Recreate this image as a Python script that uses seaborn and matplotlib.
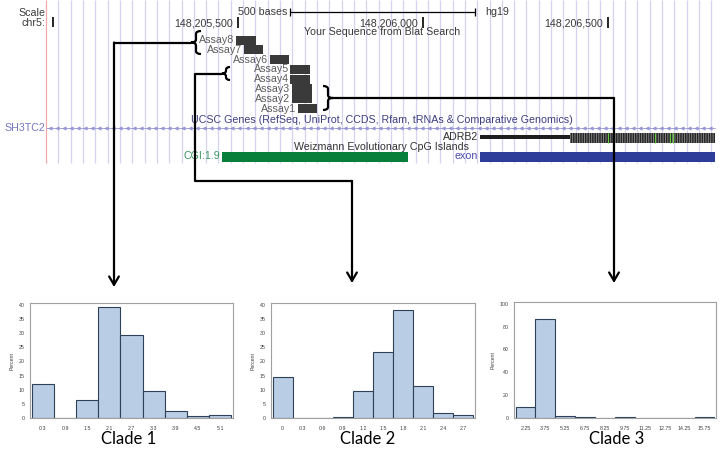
import matplotlib
matplotlib.use("Agg")
import matplotlib.pyplot as plt
import seaborn as sns
import numpy as np
import pandas as pd
from matplotlib.patches import Rectangle, PathPatch
from matplotlib.path import Path

# --- histogram data (percent per bin, bins centred on the tick labels) ---
clade1_bins = [0.3, 0.9, 1.5, 2.1, 2.7, 3.3, 3.9, 4.5, 5.1]
clade1_pct = [12.0, 0.0, 6.5, 39.3, 29.2, 9.7, 2.3, 0.6, 1.1]
clade1_labels = ["0.3", "0.9", "1.5", "2.1", "2.7", "3.3", "3.9", "4.5", "5.1"]

clade2_bins = [0.0, 0.3, 0.6, 0.9, 1.2, 1.5, 1.8, 2.1, 2.4, 2.7]
clade2_pct = [14.3, 0.0, 0.0, 0.4, 9.6, 23.4, 38.1, 11.3, 1.7, 1.0]
clade2_labels = ["0", "0.3", "0.6", "0.9", "1.2", "1.5", "1.8", "2.1", "2.4", "2.7"]

clade3_bins = [2.25, 3.75, 5.25, 6.75, 8.25, 9.75, 11.25, 12.75, 14.25, 15.75]
clade3_pct = [10.0, 86.5, 1.5, 0.7, 0.0, 0.7, 0.0, 0.0, 0.0, 0.6]
clade3_labels = ["2.25", "3.75", "5.25", "6.75", "8.25", "9.75", "11.25", "12.75", "14.25", "15.75"]

# --- browser track data (hg19, chr5) ---
assay_names = ["Assay1", "Assay2", "Assay3", "Assay4", "Assay5", "Assay6", "Assay7", "Assay8"]
assay_start = [148205662, 148205646, 148205646, 148205641, 148205641, 148205586, 148205516, 148205495]
assay_end = [148205714, 148205700, 148205700, 148205695, 148205695, 148205638, 148205568, 148205549]
scale_ticks = [148205500, 148206000, 148206500]
scale_tick_labels = ["148,205,500", "148,206,000", "148,206,500"]
view_start, view_end = 148204981, 148206789
cgi_start, cgi_end = 148205457, 148205959
exon_start, exon_end = 148206154, 148206789
adrb2_start, adrb2_cds, adrb2_end = 148206154, 148206397, 148206789
adrb2_green = [148206500, 148206627, 148206667, 148206675]

sns.set_style("white")
plt.rcParams["font.family"] = ["Liberation Sans", "DejaVu Sans"]
plt.rcParams["hatch.linewidth"] = 0.6

W, H = 721, 457
fig = plt.figure(figsize=(W / 100, H / 100), dpi=100)

# pixel -> base conversion used for the track axes limits
BASE0, PX0, PX_PER_BASE = 148205500, 238, 0.37


def g(px):
    return BASE0 + (px - PX0) / PX_PER_BASE


track = fig.add_axes([0, 0, 1, 1])
track.set_xlim(g(0), g(W))
track.set_ylim(H, 0)
track.axis("off")

# light guide lines + red left border
grid_x = np.arange(view_start, view_end + 1, 33.3)
track.vlines(grid_x[1:], 0, 163, color="#d4d4f0", lw=0.9, zorder=0)
track.vlines(view_start, 0, 163, color="#f2a8a8", lw=0.9, zorder=0)

FS = 7.7
txt = dict(fontsize=FS, color="#3a3a3a", va="center")
track.text(g(45), 13, "Scale", ha="right", **txt)
track.text(g(45), 23, "chr5:", ha="right", **txt)
track.vlines(g(53), 17, 27, color="k", lw=1.2)

# 500 bases scale bar
sb0 = g(290)
track.plot([sb0, sb0 + 500], [12, 12], color="k", lw=0.9)
track.vlines([sb0, sb0 + 500], 8, 16, color="k", lw=0.9)
track.text(sb0 - 8, 12, "500 bases", ha="right", **txt)
track.text(sb0 + 527, 12, "hg19", ha="left", **txt)

for pos, lab in zip(scale_ticks, scale_tick_labels):
    track.vlines(pos, 17, 28, color="k", lw=1.2)
    track.text(pos - 13, 23, lab, ha="right", **txt)

track.text(g(382), 32, "Your Sequence from Blat Search", ha="center", **txt)

# assays
for i, (name, s, e) in enumerate(zip(assay_names, assay_start, assay_end)):
    y = 108.5 - 9.77 * i
    track.add_patch(Rectangle((s, y - 4.6), e - s, 9.2, facecolor="#3a3a3a", edgecolor="none"))
    track.text(s - 4, y, name, ha="right", fontsize=FS, color="#5e5e5e", va="center")

# UCSC genes
track.text(g(382), 120, "UCSC Genes (RefSeq, UniProt, CCDS, Rfam, tRNAs & Comparative Genomics)",
           ha="center", fontsize=FS, color="#3e3e7e", va="center")
track.text(g(45), 128, "SH3TC2", ha="right", fontsize=FS, color="#7676c2", va="center")
track.plot([view_start, view_end], [128, 128], color="#9a9ad8", lw=0.6)
chev = np.arange(view_start + 10, view_end, 19)
track.plot(chev, np.full(len(chev), 128), ls="none", marker="<", ms=2.4,
           mfc="#9a9ad8", mec="#8a8ad0", mew=0.4)

track.text(adrb2_start - 6, 137, "ADRB2", ha="right", fontsize=FS, color="#2e2e2e", va="center")
track.add_patch(Rectangle((adrb2_start, 135), adrb2_cds - adrb2_start, 4, facecolor="#1e1e1e", edgecolor="none"))
track.add_patch(Rectangle((adrb2_cds, 132.5), adrb2_end - adrb2_cds, 10.5, facecolor="#262626",
                          edgecolor="#8e8e8e", hatch="|||||||", lw=0))
track.vlines(adrb2_green, 132.5, 143, color="#5ecf3a", lw=0.8)

track.text(g(382), 147, "Weizmann Evolutionary CpG Islands", ha="center", fontsize=FS,
           color="#333333", va="center")
track.text(cgi_start - 6, 156, "CGI:1.9", ha="right", fontsize=FS, color="#3b9563", va="center")
track.add_patch(Rectangle((cgi_start, 152), cgi_end - cgi_start, 9.5, facecolor="#08803c", edgecolor="none"))
track.text(exon_start - 6, 156, "exon", ha="right", fontsize=FS, color="#4a4aac", va="center")
track.add_patch(Rectangle((exon_start, 152), exon_end - exon_start, 9.5, facecolor="#2f3d9a", edgecolor="none"))


# --- histograms ---
def draw_hist(box, centers, pct, labels, ymax, ystep, title, cx):
    l, t, r, b = box
    ax = fig.add_axes([l / W, 1 - b / H, (r - l) / W, (b - t) / H])
    c = np.array(centers, dtype=float)
    w = c[1] - c[0]
    edges = list(np.append(c - w / 2, c[-1] + w / 2))
    df = pd.DataFrame({"value": centers, "pct": pct})
    sns.histplot(data=df, x="value", weights="pct", bins=edges, ax=ax, color="#b9cde5",
                 edgecolor="#2f4156", linewidth=0.8, alpha=1)
    ax.set_xlim(edges[0] - 0.08 * w, edges[-1] + 0.08 * w)
    ax.set_ylim(0, ymax * 1.015)
    ax.set_xticks(centers)
    ax.set_xticklabels(labels)
    ax.set_yticks(np.arange(0, ymax + 0.1, ystep))
    ax.set_ylabel("Percent", fontsize=3.8, color="#404040", labelpad=3)
    ax.set_xlabel("")
    ax.tick_params(labelsize=3.8, colors="#404040", length=2, width=0.5, pad=2)
    ax.tick_params(axis="x", length=0, pad=6)
    for sp in ax.spines.values():
        sp.set_color("#a0a0a0")
        sp.set_linewidth(0.8)
    fig.text(cx / W, 1 - 439 / H, title, fontsize=12, family=["Lato", "DejaVu Sans"],
             ha="center", va="center", color="black")


draw_hist((30, 303, 233, 418), clade1_bins, clade1_pct, clade1_labels, 40, 5, "Clade 1", 129)
draw_hist((271, 303, 475, 418), clade2_bins, clade2_pct, clade2_labels, 40, 5, "Clade 2", 368)
draw_hist((514, 302, 716, 418), clade3_bins, clade3_pct, clade3_labels, 100, 20, "Clade 3", 617)

# --- brackets and arrows (figure pixels) ---
ov = fig.add_axes([0, 0, 1, 1], zorder=5)
ov.set_xlim(0, W)
ov.set_ylim(H, 0)
ov.axis("off")
ov.patch.set_alpha(0)


def brace(x_tip, y0, y1, w, facing=1):
    # facing=1: tip points left, -1: tip points right
    ym = (y0 + y1) / 2
    r = 3
    xo = x_tip + facing * w
    xm = x_tip + facing * w / 2
    verts = [(xo, y0), (xm, y0), (xm, y0 + r), (xm, ym - r), (xm, ym), (x_tip, ym),
             (xm, ym), (xm, ym + r), (xm, y1 - r), (xm, y1), (xo, y1)]
    codes = [Path.MOVETO, Path.CURVE3, Path.CURVE3, Path.LINETO, Path.CURVE3, Path.CURVE3,
             Path.CURVE3, Path.CURVE3, Path.LINETO, Path.CURVE3, Path.CURVE3]
    ov.add_patch(PathPatch(Path(verts, codes), facecolor="none", edgecolor="k", lw=1.6))


brace(191, 31, 54, 10, 1)
brace(222, 67, 80, 8, 1)
brace(333, 86, 110, 10, -1)

arrow = dict(arrowstyle="->,head_length=0.6,head_width=0.35", lw=1.6, color="k",
             shrinkA=0, shrinkB=0)
ov.plot([191, 114], [42.5, 42.5], color="k", lw=1.6)
ov.annotate("", xy=(114, 287), xytext=(114, 42.5), arrowprops=arrow)

ov.plot([222, 195, 195, 352], [73.5, 73.5, 181, 181], color="k", lw=1.6)
ov.annotate("", xy=(352, 283), xytext=(352, 181), arrowprops=arrow)

ov.plot([333, 614], [98, 98], color="k", lw=1.6)
ov.annotate("", xy=(614, 283), xytext=(614, 98), arrowprops=arrow)

fig.savefig("out.png", dpi=100)
